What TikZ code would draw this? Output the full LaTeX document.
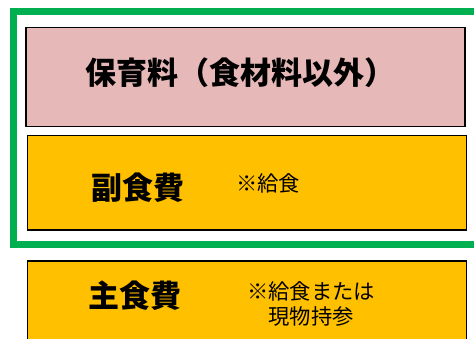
\documentclass[tikz,border=0pt]{standalone}
\usepackage{fontspec}
\newfontfamily\jp{Noto Sans CJK JP}
\definecolor{pinkc}{HTML}{E6B8B7}
\definecolor{yellowc}{HTML}{FFC000}
\definecolor{greenc}{HTML}{00B050}
\tikzset{
  box/.style={draw=black, line width=1.4pt, inner sep=0pt, minimum width=439pt},
  titletext/.style={font=\jp\bfseries\fontsize{31}{35}\selectfont, inner sep=0pt},
  notetext/.style={font=\jp\fontsize{21.3}{24.5}\selectfont, inner sep=0pt, align=center},
}
\begin{document}
\begin{tikzpicture}[x=1pt,y=-1pt]
\useasboundingbox (0,0) rectangle (474,339);
\fill[white] (0,0) rectangle (474,339);
% green frame
\node (frame) [draw=greenc, line width=7.5pt, minimum width=466pt, minimum height=233pt, inner sep=0pt] at (246.3,127.9) {};
% boxes
\node (pink) [box, fill=pinkc, minimum height=99pt] at (245.3,77) {};
\node (fuku) [box, fill=yellowc, minimum height=94.5pt] at (247,182.8) {};
\node (shu) [box, fill=yellowc, minimum height=100pt] at (247,311) {};
% texts
\node (t1) [titletext] at (240,73) {保育料（食材料以外）};
\node (t2) [titletext, anchor=west] at (91,188) {副食費};
\node (n2) [notetext, anchor=west] at (236,183) {※給食};
\node (t3) [titletext, anchor=west] at (88,296) {主食費};
\node (n3) [notetext] at (311,304) {※給食または\\現物持参};
\end{tikzpicture}
\end{document}
